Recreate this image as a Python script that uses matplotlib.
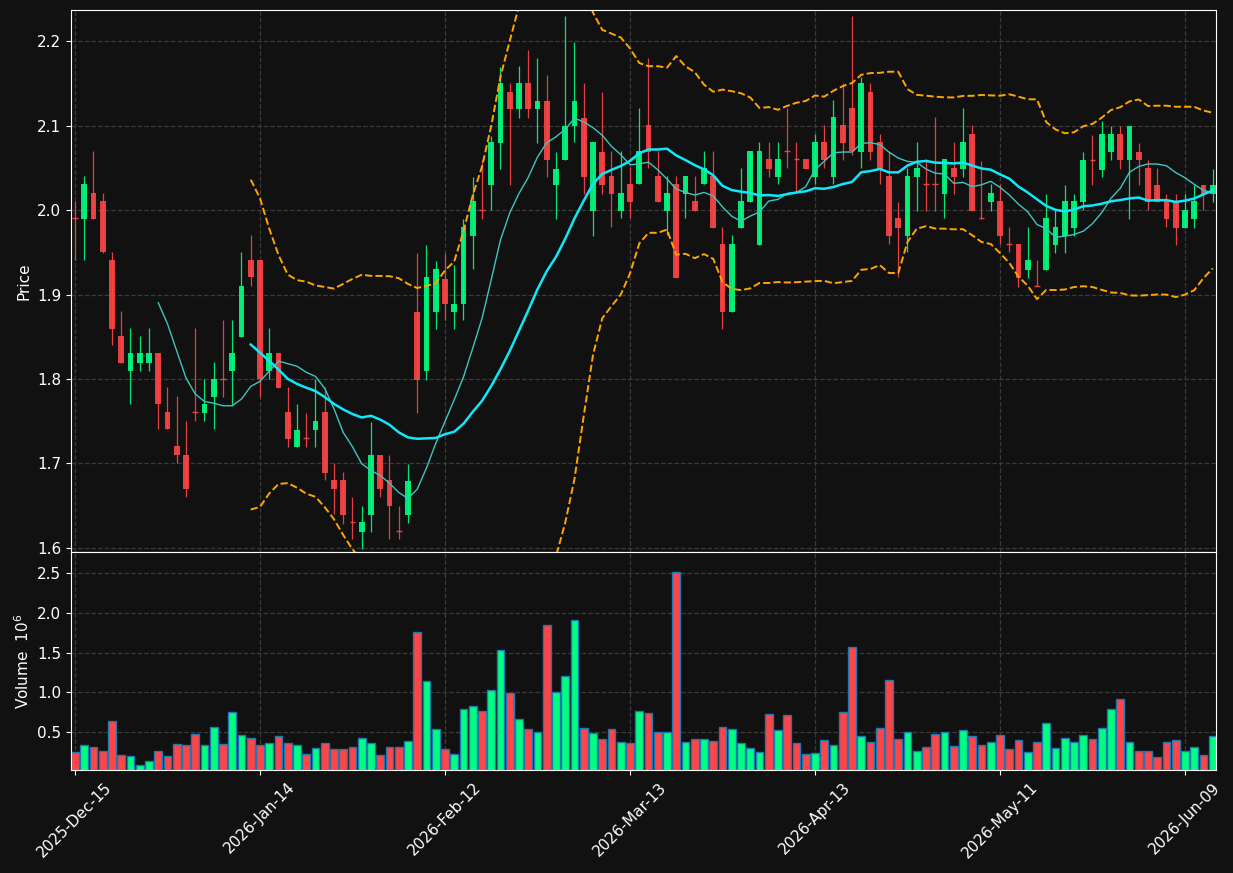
import numpy as np
import pandas as pd
import matplotlib
matplotlib.use("Agg")
import matplotlib.pyplot as plt

# ── Daily OHLCV (volume in millions) ─────────────────────────────────────────
opens = [
    1.9905, 1.9897, 2.0206, 2.0111, 1.9411, 1.8510, 1.8099, 1.8194, 1.8194, 1.8308,
    1.7609, 1.7206, 1.7099, 1.7605, 1.7601, 1.7791, 1.8000, 1.8099, 1.8502, 1.9411,
    1.9411, 1.8099, 1.8304, 1.7607, 1.7196, 1.7295, 1.7394, 1.7607, 1.6800, 1.6800,
    1.6300, 1.6187, 1.6385, 1.7097, 1.6800, 1.6196, 1.6388, 1.8796, 1.8090, 1.8792,
    1.9184, 1.8792, 1.8886, 1.9694, 2.0000, 2.0298, 2.0796, 2.1396, 2.1196, 2.1502,
    2.1196, 2.1298, 2.0298, 2.0592, 2.0992, 2.1094, 1.9988, 2.0694, 2.0403, 1.9992,
    2.0308, 2.0304, 2.1008, 2.0403, 1.9992, 2.0308, 2.0194, 2.0107, 2.0304, 2.0403,
    1.9597, 1.8794, 1.9791, 2.0099, 1.9585, 2.0605, 2.0395, 2.0700, 2.0605, 2.0605,
    2.0395, 2.0806, 2.0395, 2.1008, 2.1206, 2.0692, 2.1399, 2.0806, 2.0403, 1.9901,
    1.9696, 2.0395, 2.0304, 2.0304, 2.0194, 2.0494, 2.0486, 2.0901, 1.9901, 2.0099,
    2.0102, 1.9593, 1.9594, 1.9295, 1.9098, 1.9295, 1.9591, 1.9693, 1.9787, 2.0094,
    2.0594, 2.0480, 2.0685, 2.0898, 2.0590, 2.0693, 2.0496, 2.0303, 2.0102, 2.0102,
    1.9787, 1.9894, 2.0303, 2.0193,
]
highs = [
    2.0111, 2.0407, 2.0700, 2.0202, 1.9502, 1.8802, 1.8601, 1.8506, 1.8601, 1.8308,
    1.7901, 1.7798, 1.7498, 1.8601, 1.8000, 1.8198, 1.8696, 1.8696, 1.9502, 1.9704,
    1.9411, 1.8601, 1.8304, 1.7900, 1.7702, 1.7600, 1.8000, 1.7900, 1.7000, 1.6892,
    1.6600, 1.6500, 1.7492, 1.7097, 1.7097, 1.6500, 1.6988, 1.9490, 1.9592, 1.9400,
    1.9490, 1.9347, 1.9898, 2.0396, 2.0592, 2.0878, 2.1694, 2.1502, 2.1702, 2.1900,
    2.1796, 2.1600, 2.0694, 2.2294, 2.1992, 2.1502, 2.0804, 2.1396, 2.0700, 2.0700,
    2.0514, 2.1206, 2.1798, 2.0700, 2.0403, 2.0403, 2.0403, 2.0403, 2.0700, 2.0700,
    1.9794, 1.9704, 2.0502, 2.0700, 2.0806, 2.0806, 2.0806, 2.1206, 2.0806, 2.0605,
    2.0901, 2.1004, 2.1304, 2.1502, 2.2300, 2.1581, 2.1502, 2.0901, 2.0700, 2.0099,
    2.0494, 2.0806, 2.0605, 2.1103, 2.0605, 2.0806, 2.1206, 2.1004, 2.0577, 2.0304,
    2.0304, 1.9794, 1.9594, 1.9799, 1.9406, 2.0193, 1.9996, 2.0300, 2.0193, 2.0693,
    2.0894, 2.1051, 2.1000, 2.1000, 2.1000, 2.0795, 2.0594, 2.0496, 2.0193, 2.0193,
    2.0193, 2.0300, 2.0303, 2.0488,
]
lows = [
    1.9411, 1.9410, 1.9890, 1.9490, 1.8399, 1.8194, 1.7700, 1.8099, 1.8099, 1.7403,
    1.7403, 1.7000, 1.6597, 1.7498, 1.7498, 1.7403, 1.7791, 1.7688, 1.8502, 1.9103,
    1.7791, 1.7996, 1.7896, 1.7196, 1.7196, 1.7196, 1.7196, 1.6800, 1.6406, 1.6287,
    1.6100, 1.5990, 1.6187, 1.6600, 1.6100, 1.6100, 1.6294, 1.7600, 1.7988, 1.8592,
    1.8694, 1.8592, 1.8694, 1.9298, 1.9898, 2.0000, 2.0490, 2.0298, 2.1094, 2.1094,
    2.0796, 2.0396, 1.9898, 2.0592, 2.0804, 2.0192, 1.9694, 2.0192, 1.9794, 1.9901,
    1.9901, 2.0304, 2.0494, 2.0099, 1.9704, 1.9198, 1.9901, 1.9992, 2.0304, 1.9791,
    1.8597, 1.8794, 1.9791, 2.0099, 1.9585, 2.0395, 2.0304, 2.0494, 2.0199, 2.0486,
    2.0304, 2.0494, 2.0304, 2.0593, 2.0650, 2.0494, 2.0593, 2.0304, 1.9593, 1.9209,
    1.9498, 1.9992, 1.9992, 1.9992, 1.9901, 2.0194, 2.0395, 1.9992, 1.9900, 1.9992,
    1.9593, 1.9506, 1.9090, 1.9201, 1.9098, 1.9295, 1.9492, 1.9492, 1.9693, 1.9996,
    2.0300, 2.0390, 2.0590, 2.0488, 1.9898, 2.0300, 1.9996, 2.0094, 1.9799, 1.9590,
    1.9787, 1.9787, 1.9996, 2.0094,
]
closes = [
    1.9905, 2.0312, 1.9897, 1.9498, 1.8597, 1.8194, 1.8308, 1.8308, 1.8308, 1.7700,
    1.7403, 1.7095, 1.6700, 1.7605, 1.7704, 1.8000, 1.8000, 1.8308, 1.9103, 1.9202,
    1.7996, 1.8308, 1.7896, 1.7290, 1.7400, 1.7295, 1.7500, 1.6887, 1.6697, 1.6385,
    1.6300, 1.6300, 1.7097, 1.6697, 1.6492, 1.6196, 1.6796, 1.7988, 1.9204, 1.9298,
    1.8886, 1.8890, 1.9796, 2.0102, 2.0000, 2.0804, 2.1502, 2.1196, 2.1502, 2.1196,
    2.1298, 2.0592, 2.0490, 2.1000, 2.1298, 2.0388, 2.0804, 2.0298, 2.0194, 2.0206,
    2.0099, 2.0700, 2.0692, 2.0099, 2.0206, 1.9198, 2.0403, 1.9992, 2.0502, 1.9791,
    1.8794, 1.9597, 2.0107, 2.0700, 2.0700, 2.0486, 2.0605, 2.0700, 2.0605, 2.0486,
    2.0806, 2.0593, 2.1103, 2.0798, 2.0700, 2.1502, 2.0692, 2.0486, 1.9696, 1.9791,
    2.0403, 2.0494, 2.0304, 2.0304, 2.0605, 2.0395, 2.0806, 1.9992, 1.9901, 2.0206,
    1.9696, 1.9593, 1.9201, 1.9406, 1.9098, 1.9906, 1.9799, 2.0102, 2.0102, 2.0598,
    2.0594, 2.0898, 2.0898, 2.0590, 2.1000, 2.0590, 2.0094, 2.0094, 1.9894, 1.9787,
    1.9996, 2.0102, 2.0193, 2.0303,
]
volumes = [
    0.247, 0.335, 0.310, 0.260, 0.639, 0.209, 0.196, 0.082, 0.133, 0.260,
    0.196, 0.348, 0.335, 0.475, 0.335, 0.563, 0.348, 0.753, 0.462, 0.424,
    0.335, 0.361, 0.449, 0.361, 0.335, 0.222, 0.297, 0.361, 0.285, 0.285,
    0.310, 0.424, 0.361, 0.209, 0.310, 0.310, 0.386, 1.753, 1.146, 0.538,
    0.285, 0.222, 0.791, 0.829, 0.766, 1.031, 1.538, 0.994, 0.665, 0.538,
    0.500, 1.841, 1.006, 1.209, 1.905, 0.551, 0.487, 0.411, 0.538, 0.373,
    0.361, 0.766, 0.741, 0.500, 0.500, 2.513, 0.373, 0.411, 0.411, 0.386,
    0.563, 0.538, 0.361, 0.297, 0.247, 0.728, 0.525, 0.715, 0.361, 0.222,
    0.234, 0.399, 0.335, 0.753, 1.576, 0.449, 0.373, 0.551, 1.158, 0.411,
    0.500, 0.260, 0.310, 0.475, 0.500, 0.323, 0.525, 0.449, 0.335, 0.373,
    0.462, 0.285, 0.399, 0.247, 0.373, 0.614, 0.297, 0.424, 0.373, 0.462,
    0.411, 0.551, 0.791, 0.918, 0.373, 0.260, 0.260, 0.184, 0.373, 0.399,
    0.260, 0.310, 0.209, 0.449,
]

HOLIDAYS = ["2025-12-25", "2026-01-01", "2026-01-19", "2026-02-16",
            "2026-04-03", "2026-05-25"]
dates = pd.bdate_range("2025-12-15", periods=len(closes), freq="C",
                       holidays=HOLIDAYS)

df = pd.DataFrame({"Open": opens, "High": highs, "Low": lows,
                   "Close": closes, "Volume": volumes}, index=dates)
df["ma10"] = df["Close"].rolling(10).mean()
df["ma20"] = df["Close"].rolling(20).mean()
std20 = df["Close"].rolling(20).std()
df["bb_up"] = df["ma20"] + 2 * std20
df["bb_lo"] = df["ma20"] - 2 * std20

# ── Style ────────────────────────────────────────────────────────────────────
BG     = "#111111"
UP     = "#00ff80"
DOWN   = "#ff4545"
GRID   = "#3a3a3a"
FG     = "white"

x = np.arange(len(df))
up = df["Close"].values > df["Open"].values
colors = np.where(up, UP, DOWN)

fig = plt.figure(figsize=(12.33, 8.73), dpi=100, facecolor=BG)
ax  = fig.add_axes([0.0576, 0.3677, 0.9286, 0.6208], facecolor=BG)
axv = fig.add_axes([0.0576, 0.1180, 0.9286, 0.2497], facecolor=BG, sharex=ax)

for a in (ax, axv):
    a.grid(True, color=GRID, linestyle="--", linewidth=0.9)
    a.set_axisbelow(True)
    for s in a.spines.values():
        s.set_color(FG)
    a.tick_params(colors=FG, labelsize=11)

# ── Candles ──────────────────────────────────────────────────────────────────
ax.vlines(x, df["Low"], df["High"], colors=colors, linewidth=0.9, alpha=0.9)
body_lo = np.minimum(df["Open"], df["Close"])
body_h  = np.abs(df["Close"] - df["Open"])
ax.bar(x, body_h, width=0.6, bottom=body_lo, color=colors, alpha=0.9,
       linewidth=0)
doji = body_h.values < 1e-6
ax.hlines(df["Close"][doji], x[doji] - 0.3, x[doji] + 0.3,
          colors=colors[doji], linewidth=1.0, alpha=0.9)

ax.plot(x, df["ma10"], color="#40c4c0", linewidth=1.0)
ax.plot(x, df["ma20"], color="#10e8f8", linewidth=1.8)
ax.plot(x, df["bb_up"], color="orange", linestyle="--", linewidth=1.4)
ax.plot(x, df["bb_lo"], color="orange", linestyle="--", linewidth=1.4)

lo, hi = df["Low"].min(), df["High"].max()
ax.set_ylim(lo - 0.004, hi + 0.007)
ax.set_xlim(-0.43, len(df) - 0.65)
ax.set_yticks([1.6, 1.7, 1.8, 1.9, 2.0, 2.1, 2.2])
ax.set_ylabel("Price", color=FG, fontsize=11)
ax.tick_params(axis="x", labelbottom=False)

# ── Volume ───────────────────────────────────────────────────────────────────
axv.bar(x, df["Volume"], width=0.85, color=colors, edgecolor="#1f77b4",
        linewidth=1.0)
axv.set_ylim(0.3 * df["Volume"].min(), 1.1 * df["Volume"].max())
axv.set_yticks([0.5, 1.0, 1.5, 2.0, 2.5])
axv.set_ylabel("Volume  $10^{6}$", color=FG, fontsize=11)

ticks = list(range(0, len(df), 20))
axv.set_xticks(ticks)
axv.set_xticklabels([df.index[i].strftime("%Y-%b-%d") for i in ticks],
                    rotation=45, ha="center")

fig.savefig("out.png", dpi=100, facecolor=BG)
plt.close(fig)
